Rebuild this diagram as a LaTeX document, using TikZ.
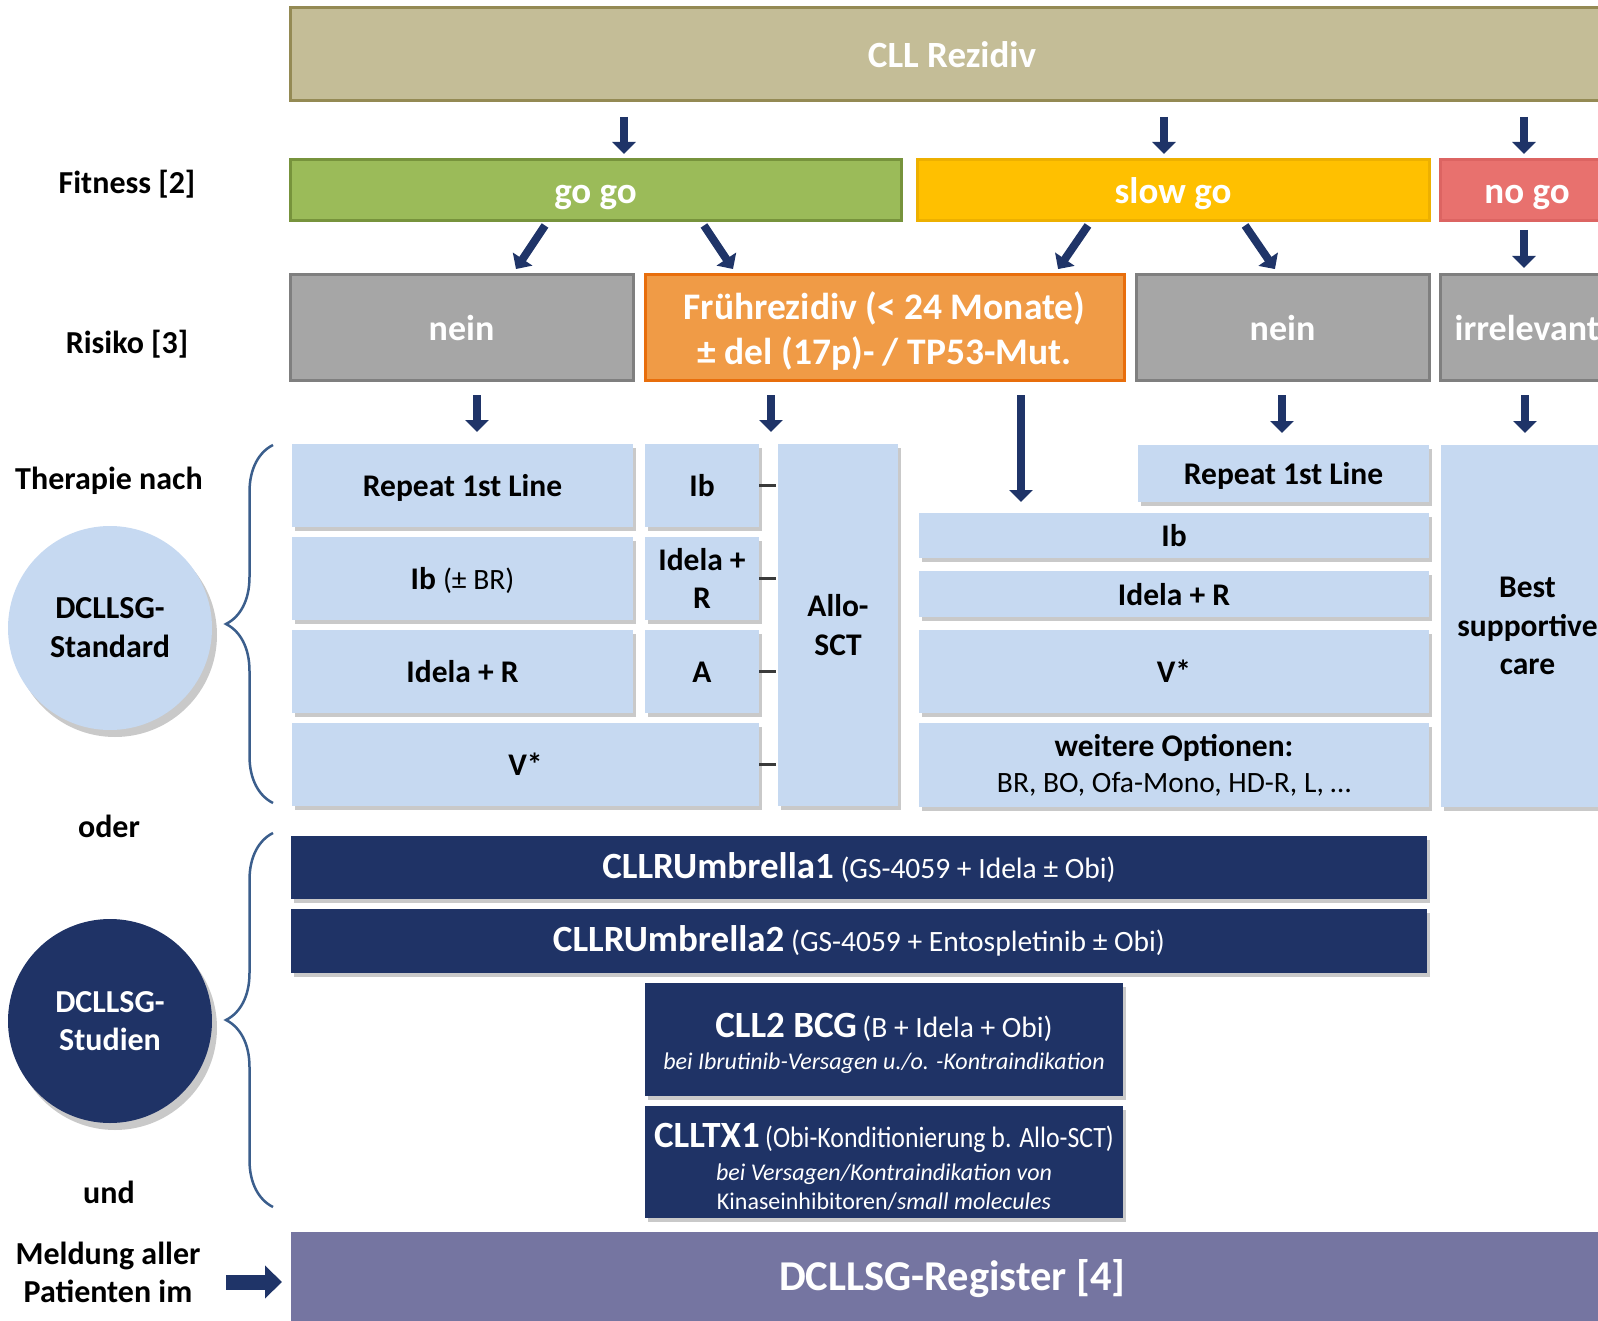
\documentclass[tikz,border=0pt]{standalone}
\usepackage{fontspec}
\setmainfont{Carlito}
\usepackage{graphicx}
\usetikzlibrary{arrows.meta,shadows,decorations.pathreplacing,calc}
\definecolor{navyc}{HTML}{1F3366}
\definecolor{arrowc}{HTML}{1F3468}
\definecolor{lblue}{HTML}{C6D9F1}
\definecolor{tanc}{HTML}{C4BD97}
\definecolor{tanb}{HTML}{948A54}
\definecolor{greenc}{HTML}{9BBB59}
\definecolor{greenb}{HTML}{77933C}
\definecolor{yellc}{HTML}{FFC000}
\definecolor{yellb}{HTML}{EDB000}
\definecolor{redc}{HTML}{E8716E}
\definecolor{redb}{HTML}{DC6462}
\definecolor{grayc}{HTML}{A6A6A6}
\definecolor{grayb}{HTML}{7F7F7F}
\definecolor{orc}{HTML}{F09B46}
\definecolor{orb}{HTML}{E86E0C}
\definecolor{regc}{HTML}{7575A1}
\definecolor{bracec}{HTML}{3B5E8C}
\definecolor{tickc}{HTML}{3A3A3A}
\newcommand\myfs[2]{\fontsize{#1}{#2}\selectfont}
\newcommand\rg{\mdseries\upshape\myfs{29.5}{36}}
\begin{document}
\begin{tikzpicture}[x=1pt,y=-1pt,
  box/.style={inner sep=0pt, outer sep=0pt, align=center},
  hdr/.style={box, draw, line width=3pt, text=white, font=\bfseries\myfs{37}{44}},
  fit1/.style={text height=27pt, text depth=0pt},
  one/.style={text height=22pt, text depth=0pt},
  shad/.style={drop shadow={shadow xshift=3pt, shadow yshift=-4pt, opacity=0.3, fill=black!70}},
  lb/.style={box, fill=lblue, shad, font=\bfseries\myfs{31.5}{38}},
  nv/.style={box, fill=navyc, shad, text=white},
  lab/.style={box, font=\bfseries\myfs{32}{38}},
  arr/.style={draw=arrowc, line width=8pt, -{Triangle[width=23pt,length=12pt]}},
  bigarr/.style={draw=arrowc, line width=15pt, -{Triangle[width=32pt,length=17pt]}},
  tickline/.style={draw=tickc, line width=3pt},
  bracestyle/.style={draw=bracec, line width=2.5pt, decorate, decoration={brace, amplitude=47pt}}
]
\useasboundingbox (0,0) rectangle (1598,1321);
\clip (0,0) rectangle (1598,1321);

% top row
\node[hdr, fill=tanc, draw=tanb, minimum width=1324pt, minimum height=93pt] (rez) at (952,54.5) {CLL Rezidiv};

% fitness
\node[hdr, fit1, fill=greenc, draw=greenb, minimum width=611pt, minimum height=61pt] (gogo) at (595.5,190.5) {go go};
\node[hdr, fit1, fill=yellc, draw=yellb, minimum width=512pt, minimum height=61pt] (slowgo) at (1173,190.5) {slow go};
\node[hdr, fit1, fill=redc, draw=redb, minimum width=174pt, minimum height=61pt] (nogo) at (1527,190.5) {no go};

% risk
\node[hdr, fill=grayc, draw=grayb, minimum width=343pt, minimum height=106pt, font=\bfseries\myfs{36}{44}] (nein1) at (461.5,328) {nein};
\node[hdr, fill=orc, draw=orb, minimum width=479pt, minimum height=106pt, font=\bfseries\myfs{37.5}{45}] (frueh) at (884.5,328) {\rule{0pt}{34pt}Frührezidiv (< 24 Monate)\\± del (17p)- / TP53-Mut.};
\node[hdr, fill=grayc, draw=grayb, minimum width=293pt, minimum height=106pt, font=\bfseries\myfs{36}{44}] (nein2) at (1282.5,328) {nein};
\node[hdr, fill=grayc, draw=grayb, minimum width=174pt, minimum height=106pt, font=\bfseries\myfs{36}{44}] (irr) at (1527,328) {irrelevant};

% labels
\node[lab] (fitlab) at (127,184) {Fitness [2]};
\node[lab] (risklab) at (127,344) {Risiko [3]};
\node[lab] (therlab) at (109,481) {Therapie nach};
\node[lab] (oder) at (109,826) {oder};
\node[lab] (und) at (109,1192) {und};
\node[lab] (meld) at (108,1272) {Meldung aller\\Patienten im};

% circles
\node[circle, fill=lblue, minimum size=204pt, inner sep=0pt, align=center, font=\bfseries\myfs{32}{39},
  drop shadow={shadow xshift=5pt, shadow yshift=-7pt, opacity=0.3, fill=black!70}] (std) at (110,628) {DCLLSG-\\Standard};
\node[circle, fill=navyc, text=white, minimum size=204pt, inner sep=0pt, align=center, font=\bfseries\myfs{32}{38},
  drop shadow={shadow xshift=5pt, shadow yshift=-7pt, opacity=0.3, fill=black!70}] (stu) at (110,1021) {DCLLSG-\\Studien};

% braces
\draw[bracestyle] (273,803) -- (273,445);
\draw[bracestyle] (273,1207) -- (273,833);

% therapy left
\node[lb, one, minimum width=341pt, minimum height=83pt] (rep1) at (462.5,485.5) {Repeat 1st Line};
\node[lb, one, minimum width=114pt, minimum height=83pt] (ib1) at (702,485.5) {Ib};
\node[lb, one, minimum width=341pt, minimum height=83pt] (ibbr) at (462.5,578.5) {Ib {\rg(± BR)}};
\node[lb, minimum width=114pt, minimum height=83pt] (idr1s) at (702,578.5) {Idela +\\R};
\node[lb, one, minimum width=341pt, minimum height=83pt] (idr1) at (462.5,671.5) {Idela + R};
\node[lb, one, minimum width=114pt, minimum height=83pt] (a1) at (702,671.5) {A};
\node[lb, one, minimum width=467pt, minimum height=83pt] (v1) at (525.5,764.5) {V*};
\node[lb, minimum width=120pt, minimum height=362pt, font=\bfseries\myfs{31.5}{39}] (allo) at (838,625) {Allo-\\SCT};

% therapy right
\node[lb, one, minimum width=291pt, minimum height=57pt] (rep2) at (1283.5,473.5) {Repeat 1st Line};
\node[lb, one, minimum width=510pt, minimum height=45pt] (ib2) at (1174,535.5) {Ib};
\node[lb, one, minimum width=510pt, minimum height=46pt] (idr2) at (1174,594) {Idela + R};
\node[lb, one, minimum width=510pt, minimum height=83pt] (v2) at (1174,671.5) {V*};
\node[lb, minimum width=510pt, minimum height=84pt, font=\myfs{29.5}{36}] (wo) at (1174,765) {{\bfseries\myfs{31.5}{38}weitere Optionen:}\\BR, BO, Ofa-Mono, HD-R, L, …};
\node[lb, minimum width=173pt, minimum height=362pt, font=\bfseries\myfs{31.5}{38.5}] (bsc) at (1527.5,626) {Best\\supportive\\care};

% studies
\node[nv, minimum width=1136pt, minimum height=63pt, font=\myfs{29.5}{36}] (u1) at (859,867.5) {{\bfseries\myfs{37}{44}CLLRUmbrella1} (GS-4059 + Idela ± Obi)};
\node[nv, minimum width=1136pt, minimum height=64pt, font=\myfs{29.5}{36}] (u2) at (859,941) {{\bfseries\myfs{37}{44}CLLRUmbrella2} (GS-4059 + Entospletinib ± Obi)};
\node[nv, minimum width=478pt, minimum height=113pt, font=\myfs{24}{32}] (bcg) at (884,1039.5) {\rule{0pt}{32pt}{\bfseries\myfs{37}{44}CLL2 BCG} {\rg(B + Idela + Obi)}\\{\itshape bei Ibrutinib-Versagen u./o. -Kontraindikation}};
\node[nv, minimum width=478pt, minimum height=112pt, font=\myfs{24}{29}] (tx1) at (884,1162) {\rule{0pt}{33pt}{\bfseries\myfs{37}{44}CLLTX1} \scalebox{0.875}[1]{\rg(Obi-Konditionierung b. Allo-SCT)}\\[4pt]{\itshape bei Versagen/Kontraindikation von}\\Kinaseinhibitoren/{\itshape small molecules}};
\node[box, fill=regc, text=white, minimum width=1323pt, minimum height=94pt, font=\bfseries\myfs{42.5}{48}] (reg) at (952.5,1279) {DCLLSG-Register [4]};

% arrows: rezidiv -> fitness
\draw[arr, shorten <=16pt, shorten >=6pt] (rez.south -| 624,0) -- (gogo.north -| 624,0);
\draw[arr, shorten <=16pt, shorten >=6pt] (rez.south -| 1164,0) -- (slowgo.north -| 1164,0);
\draw[arr, shorten <=16pt, shorten >=6pt] (rez.south -| 1524,0) -- (nogo.north -| 1524,0);

% fitness -> risk
\draw[arr, shorten <=5.4pt, shorten >=7.2pt] (gogo.south -| 548,0) -- (nein1.north -| 512,0);
\draw[arr, shorten <=5.4pt, shorten >=7.2pt] (gogo.south -| 701,0) -- (frueh.north -| 737,0);
\draw[arr, shorten <=5.4pt, shorten >=7.2pt] (slowgo.south -| 1091,0) -- (frueh.north -| 1054,0);
\draw[arr, shorten <=5.4pt, shorten >=7.2pt] (slowgo.south -| 1242,0) -- (nein2.north -| 1279,0);
\draw[arr, shorten <=9pt, shorten >=7pt] (nogo.south -| 1524,0) -- (irr.north -| 1524,0);

% risk -> therapy
\draw[arr, shorten <=14pt, shorten >=12pt] (nein1.south -| 477,0) -- (rep1.north -| 477,0);
\draw[arr, shorten <=14pt, shorten >=12pt] (frueh.south -| 771,0) -- (allo.north -| 771,0);
\draw[arr, shorten <=14pt, shorten >=11pt] (frueh.south -| 1021,0) -- (ib2.north -| 1021,0);
\draw[arr, shorten <=14pt, shorten >=12pt] (nein2.south -| 1282,0) -- (rep2.north -| 1282,0);
\draw[arr, shorten <=14pt, shorten >=12pt] (irr.south -| 1525,0) -- (bsc.north -| 1525,0);

% ticks to Allo-SCT
\draw[tickline] (ib1.east) -- ([xshift=-2pt]allo.west |- ib1.east);
\draw[tickline] (idr1s.east) -- ([xshift=-2pt]allo.west |- idr1s.east);
\draw[tickline] (a1.east) -- ([xshift=-2pt]allo.west |- a1.east);
\draw[tickline] (v1.east) -- ([xshift=-2pt]allo.west |- v1.east);

% register arrow
\coordinate (ms) at (226,1282);
\draw[bigarr, shorten >=9pt] (ms) -- (reg.west |- ms);
\end{tikzpicture}
\end{document}
